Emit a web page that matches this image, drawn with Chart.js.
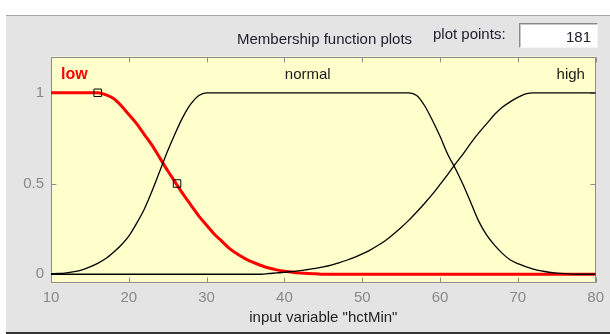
<!DOCTYPE html>
<html><head><meta charset="utf-8">
<script src="https://cdn.jsdelivr.net/npm/chart.js@4/dist/chart.umd.min.js"></script>
<style>
html,body{margin:0;padding:0;background:#fff;}
#wrap{position:relative;width:610px;height:334px;overflow:hidden;background:#fff;}
#panel{position:absolute;left:6px;top:15px;width:604px;height:319px;background:#e4e4e4;border-top:1px solid #a8a8a8;border-bottom:2px solid #333;box-sizing:border-box;}
#c{position:absolute;left:0;top:0;}
.hdr{position:absolute;font-family:"Liberation Sans",Arial,sans-serif;font-size:15px;color:#202030;white-space:nowrap;line-height:1;}
#box{position:absolute;left:519px;top:23px;width:79px;height:25px;background:#fff;box-sizing:border-box;border:1px solid;border-color:#8a8a8a #f4f4f4 #f4f4f4 #8a8a8a;box-shadow:inset 1px 1px 0 #c8c8c8;}
</style></head>
<body><div id="wrap"><div id="panel"></div><canvas id="c" width="610" height="334"></canvas>
<div class="hdr" style="left:237px;top:31px;">Membership function plots</div>
<div class="hdr" style="left:433px;top:26px;">plot points:</div>
<div id="box"><span class="hdr" style="right:6px;top:5px;">181</span></div>
</div>
<script>
// x positions of the sampled points (input variable hctMin)
const xs = [10,11,12,13,14,15,16,17,18,19,20,21,22,23,24,25,26,27,28,29,30,31,32,33,34,35,36,37,38,39,40,41,42,43,44,45,46,47,48,49,50,51,52,53,54,55,56,57,58,59,60,61,62,63,64,65,66,67,68,69,70,71,72,73,74,75,76,77,78,79,80];
// membership values
const low = [1,1,1,1,1,1,1,0.99,0.97,0.93,0.88,0.83,0.77,0.71,0.64,0.57,0.505,0.44,0.38,0.32,0.27,0.22,0.18,0.14,0.11,0.085,0.065,0.048,0.034,0.024,0.016,0.011,0.007,0.004,0.002,0,0,0,0,0,0,0,0,0,0,0,0,0,0,0,0,0,0,0,0,0,0,0,0,0,0,0,0,0,0,0,0,0,0,0,0];
const normal = [0.002,0.004,0.008,0.014,0.024,0.04,0.06,0.085,0.12,0.16,0.21,0.28,0.36,0.46,0.57,0.68,0.78,0.87,0.94,0.985,1,1,1,1,1,1,1,1,1,1,1,1,1,1,1,1,1,1,1,1,1,1,1,1,1,1,1,0.985,0.93,0.85,0.76,0.66,0.58,0.49,0.39,0.29,0.215,0.16,0.115,0.08,0.058,0.042,0.028,0.018,0.011,0.006,0.003,0.001,0,0,0];
const high = [0,0,0,0,0,0,0,0,0,0,0,0,0,0,0,0,0,0,0,0,0,0,0,0,0,0,0,0,0.004,0.007,0.011,0.015,0.02,0.026,0.032,0.04,0.05,0.063,0.077,0.093,0.112,0.133,0.158,0.186,0.22,0.257,0.298,0.343,0.39,0.44,0.495,0.55,0.61,0.665,0.725,0.78,0.83,0.88,0.92,0.95,0.975,0.994,1,1,1,1,1,1,1,1,1];
// square markers on the selected MF "low"
const markerX = [16, 26.2];
const markerY = [1, 0.5];
// MF names and where they sit (x value, y value)
const mfNames = ['low','normal','high'];
const mfLabelX = [13, 43, 76.8];
const mfLabelY = [1.1, 1.1, 1.1];
// ticks
const xTicks = [10,20,30,40,50,60,70,80];
const yTicks = [0,0.5,1];

const FONT = '"Liberation Sans", Arial, sans-serif';
const pts = arr => xs.map((x,i)=>({x, y:arr[i]}));

const deco = {
  id:'deco',
  beforeDraw(chart){
    const {ctx, chartArea:a} = chart;
    ctx.save();
    ctx.fillStyle = '#ffffcc';
    ctx.fillRect(a.left, a.top, a.right-a.left, a.bottom-a.top);
    ctx.restore();
  },
  beforeDatasetsDraw(chart){
    const {ctx, chartArea:a, scales:{x,y}} = chart;
    ctx.save();
    ctx.strokeStyle = '#8c8c8c';
    ctx.lineWidth = 1;
    const L = Math.round(a.left)+0.5, R = Math.round(a.right)-0.5, T = Math.round(a.top)+0.5, B = Math.round(a.bottom)-0.5;
    ctx.strokeRect(L, T, R-L, B-T);
    ctx.beginPath();
    xTicks.forEach(v=>{
      const p = Math.round(x.getPixelForValue(v))+0.5;
      ctx.moveTo(p, B); ctx.lineTo(p, B-5);
      ctx.moveTo(p, T); ctx.lineTo(p, T+5);
    });
    yTicks.forEach(v=>{
      const p = Math.round(y.getPixelForValue(v))+0.5;
      ctx.moveTo(L, p); ctx.lineTo(L+5, p);
      ctx.moveTo(R, p); ctx.lineTo(R-5, p);
    });
    ctx.stroke();
    ctx.restore();
  },
  afterDraw(chart){
    const {ctx, scales:{x,y}} = chart;
    ctx.save();
    ctx.textAlign = 'center';
    ctx.textBaseline = 'middle';
    mfNames.forEach((n,i)=>{
      if (i===0){ ctx.fillStyle='#ff0000'; ctx.font='bold 16px '+FONT; }
      else { ctx.fillStyle='#1a1a1a'; ctx.font='15px '+FONT; }
      ctx.fillText(n, x.getPixelForValue(mfLabelX[i]), y.getPixelForValue(mfLabelY[i]));
    });
    ctx.restore();
  }
};

new Chart(document.getElementById('c'), {
  type:'line',
  data:{datasets:[
    {label:'markers', type:'scatter', data: markerX.map((v,i)=>({x:v,y:markerY[i]})), pointStyle:'rect', pointRadius:5.3, pointHoverRadius:5.3, pointBorderColor:'#000', pointBackgroundColor:'rgba(0,0,0,0)', pointBorderWidth:1, showLine:false, order:0},
    {label:'normal', data: pts(normal), borderColor:'#000', borderWidth:1.3, pointRadius:0, cubicInterpolationMode:'monotone', order:1},
    {label:'high', data: pts(high), borderColor:'#000', borderWidth:1.3, pointRadius:0, cubicInterpolationMode:'monotone', order:1},
    {label:'low', data: pts(low), borderColor:'#ff0000', borderWidth:3, pointRadius:0, cubicInterpolationMode:'monotone', order:2}
  ]},
  options:{
    responsive:false, animation:false, devicePixelRatio:1,
    layout:{padding:{left:0, top:56.5, right:10, bottom:0}},
    plugins:{legend:{display:false}, tooltip:{enabled:false}},
    events:[],
    scales:{
      x:{type:'linear', min:10, max:80,
        grid:{display:false, drawTicks:false}, border:{display:false},
        afterBuildTicks(s){ s.ticks = xTicks.map(v=>({value:v})); },
        ticks:{color:'#888888', font:{family:FONT, size:15}, padding:6, maxRotation:0, autoSkip:false, callback:v=>String(v)},
        title:{display:true, text:'input variable "hctMin"', color:'#222222', font:{family:FONT, size:15}, padding:{top:0, bottom:7}},
        afterFit(s){ s.height = 50.7; }
      },
      y:{type:'linear', min:-0.05, max:1.2,
        grid:{display:false, drawTicks:false}, border:{display:false},
        afterBuildTicks(s){ s.ticks = yTicks.map(v=>({value:v})); },
        ticks:{color:'#888888', font:{family:FONT, size:15}, padding:7, callback:v=>String(v)},
        afterFit(s){ s.width = 51; }
      }
    }
  },
  plugins:[deco]
});
</script>
</body></html>
